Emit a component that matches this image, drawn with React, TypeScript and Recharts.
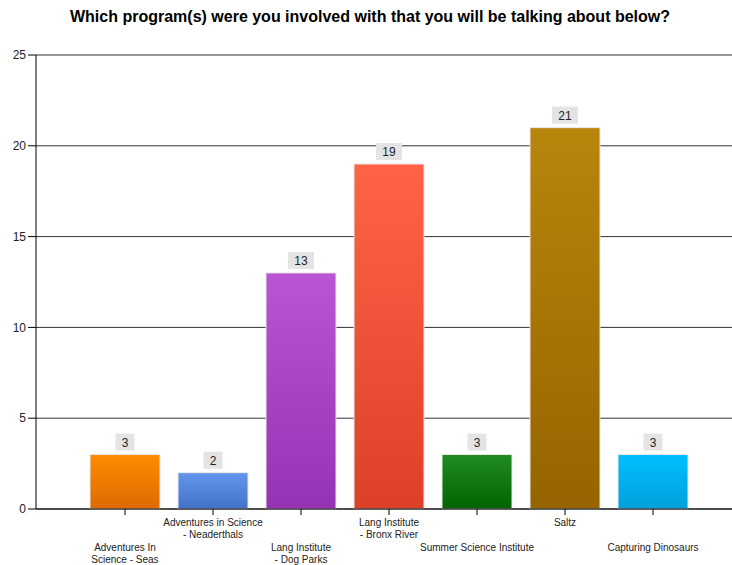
import React from 'react';
import { BarChart, Bar, XAxis, YAxis, CartesianGrid, Cell, LabelList } from 'recharts';

const categories = [
  'Adventures In\nScience - Seas',
  'Adventures in Science\n- Neaderthals',
  'Lang Institute\n- Dog Parks',
  'Lang Institute\n- Bronx River',
  'Summer Science Institute',
  'Saltz',
  'Capturing Dinosaurs',
];
const counts = [3, 2, 13, 19, 3, 21, 3];
const yTicks = [0, 5, 10, 15, 20, 25];
const topColors = ['#ff8c00', '#6495ed', '#ba55d3', '#ff6347', '#228b22', '#b8860b', '#00bfff'];
const bottomColors = ['#dc6a00', '#4272c8', '#9632b4', '#dc4028', '#006400', '#966400', '#00a0dc'];

const data = categories.map((name, i) => ({ name, value: counts[i] }));

const FONT = '"Liberation Sans", Arial, sans-serif';

const XTick = (props: any) => {
  const { x, y, payload, index } = props;
  const lines = String(payload.value).split('\n');
  const lower = index % 2 === 0;
  const baseY = y + (lower ? 34 : 9);
  return (
    <g>
      <line x1={x} x2={x} y1={y - 8} y2={y - 2} stroke="#000" strokeWidth={1} />
      <text x={x} y={baseY} textAnchor="middle" fontSize={10} fill="#222" fontFamily={FONT}>
        {lines.map((l, k) => (
          <tspan key={k} x={x} dy={k === 0 ? 0 : 11.5}>{l}</tspan>
        ))}
      </text>
    </g>
  );
};

const ValueLabel = (props: any) => {
  const { x, y, width, value } = props;
  const s = String(value);
  const w = s.length * 7 + 12;
  const cx = x + width / 2;
  return (
    <g>
      <rect x={cx - w / 2} y={y - 21} width={w} height={17} fill="#e4e4e4" />
      <text x={cx} y={y - 8} textAnchor="middle" fontSize={12} fill="#222" fontFamily={FONT}>{s}</text>
    </g>
  );
};

export default function App() {
  return (
    <div style={{ position: 'absolute', left: 0, top: 0, width: 732, height: 565, background: '#fff' }}>
      <div style={{ position: 'absolute', left: 0, top: 8, width: 740, textAlign: 'center', fontFamily: FONT, fontWeight: 'bold', fontSize: 16, color: '#000' }}>
        Which program(s) were you involved with that you will be talking about below?
      </div>
      <BarChart width={732} height={565} data={data} margin={{ top: 55, right: 0, left: 0, bottom: 0 }}>
        <defs>
          {topColors.map((c, i) => (
            <linearGradient key={i} id={`g${i}`} x1="0" y1="0" x2="0" y2="1">
              <stop offset="0%" stopColor={c} />
              <stop offset="100%" stopColor={bottomColors[i]} />
            </linearGradient>
          ))}
        </defs>
        <CartesianGrid horizontal vertical={false} stroke="#333" strokeOpacity={1} />
        <XAxis
          dataKey="name"
          interval={0}
          height={56}
          padding={{ left: 45, right: 35 }}
          axisLine={{ stroke: '#000' }}
          tickLine={false}
          tick={<XTick />}
        />
        <YAxis
          width={36}
          domain={[0, 25]}
          ticks={yTicks}
          tickSize={8}
          tickMargin={2}
          axisLine={{ stroke: '#000' }}
          tickLine={{ stroke: '#000' }}
          tick={{ fontSize: 12, fill: '#222', fontFamily: FONT }}
        />
        <Bar dataKey="value" barSize={70} isAnimationActive={false} stroke="#e8e8e8" strokeWidth={1}>
          {data.map((_, i) => (
            <Cell key={i} fill={`url(#g${i})`} />
          ))}
          <LabelList dataKey="value" content={<ValueLabel />} />
        </Bar>
      </BarChart>
    </div>
  );
}
